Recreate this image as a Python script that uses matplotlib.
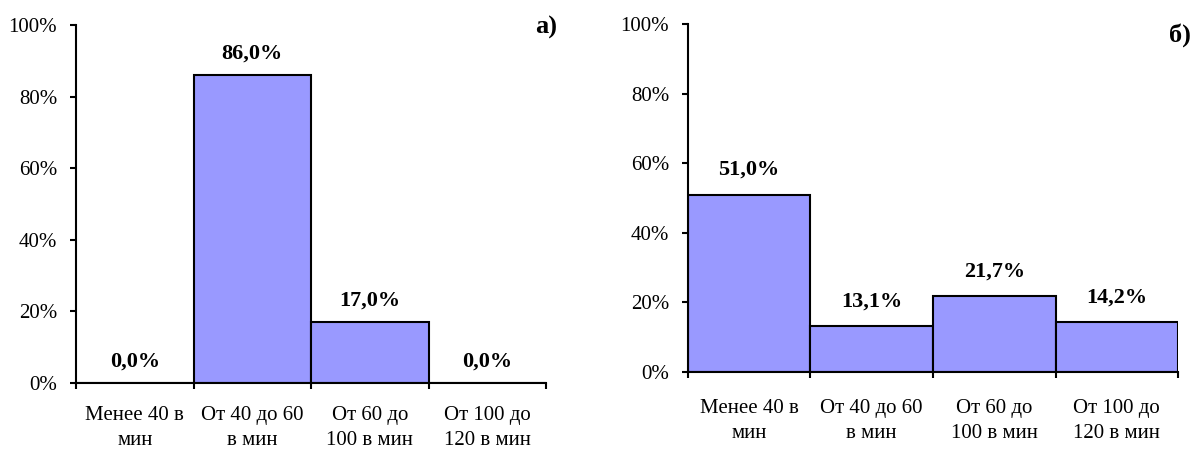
import matplotlib
matplotlib.use("Agg")
import matplotlib.pyplot as plt
import numpy as np

plt.rcParams["font.family"] = ["Liberation Serif", "DejaVu Serif"]

categories = ["Менее 40 в\nмин", "От 40 до 60\nв мин", "От 60 до\n100 в мин", "От 100 до\n120 в мин"]
values_a = [0.0, 86.0, 17.0, 0.0]
values_b = [51.0, 13.1, 21.7, 14.2]
yticks = [0, 20, 40, 60, 80, 100]

BAR = "#9999FF"

fig = plt.figure(figsize=(12.03, 4.5), dpi=100)
ax_a = fig.add_axes([0.0632, 0.1496, 0.3907, 0.7944])
ax_b = fig.add_axes([0.5717, 0.174, 0.4076, 0.772])


def draw(ax, vals, off, catpad):
    x = np.arange(len(vals))
    ax.bar(x, vals, width=1.0, color=BAR, edgecolor="black", linewidth=1.5, zorder=2)
    for xi, v in zip(x, vals):
        ax.annotate(f"{v:.1f}%".replace(".", ","), (xi, v), xytext=(0, off),
                    textcoords="offset points", ha="center", va="center",
                    fontsize=16, fontweight="bold")
    ax.set_xlim(-0.5, len(vals) - 0.5)
    ax.set_ylim(0, 100)
    ax.set_yticks(yticks)
    ax.set_yticklabels([f"{t}%" for t in yticks], fontsize=15)
    ax.set_xticks(np.arange(len(vals) + 1) - 0.5)
    ax.set_xticklabels([])
    ax.set_xticks(x, minor=True)
    ax.set_xticklabels(categories, minor=True, fontsize=15, linespacing=1.42)
    ax.tick_params(axis="x", which="minor", length=0, pad=catpad)
    ax.tick_params(axis="x", which="major", length=4.5, width=1.5, direction="out")
    ax.tick_params(axis="y", length=4.5, width=1.5, direction="out", pad=9)
    for s in ("top", "right"):
        ax.spines[s].set_visible(False)
    for s in ("left", "bottom"):
        ax.spines[s].set_linewidth(1.5)


draw(ax_a, values_a, 15.5, 17)
draw(ax_b, values_b, 18, 20)

fig.text(0.454, 0.94, "а)", fontsize=19, fontweight="bold", ha="center", va="center")
fig.text(0.981, 0.922, "б)", fontsize=19, fontweight="bold", ha="center", va="center")

plt.savefig("out.png", dpi=100)
plt.close()
